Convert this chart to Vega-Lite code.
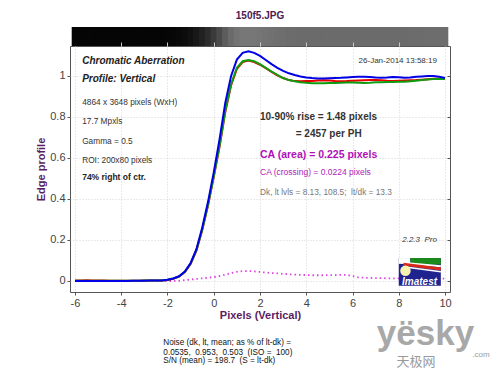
{
  "$schema": "https://vega.github.io/schema/vega-lite/v6.json",
  "width": 380,
  "height": 246,
  "autosize": {"type": "none"},
  "padding": {"left": 70, "top": 46, "right": 50, "bottom": 92},
  "background": "white",
  "title": {"text": "150f5.JPG", "fontSize": 10, "font": "Liberation Sans", "fontWeight": "bold", "color": "#4b1a55", "anchor": "middle", "offset": 6},
  "config": {"font": "Liberation Sans", "view": {"stroke": "#555", "strokeWidth": 1}},
  "resolve": {"axis": {"x": "independent", "y": "independent"}},
  "data": {"values": [
    {"x": -6, "Red": 0.002, "Green": 0.001, "Blue": 0.0, "CA": 0.0},
    {"x": -5.75, "Red": 0.003, "Green": 0.001, "Blue": 0.0, "CA": 0.0},
    {"x": -5.5, "Red": 0.004, "Green": 0.001, "Blue": 0.0, "CA": 0.0},
    {"x": -5.25, "Red": 0.003, "Green": 0.001, "Blue": 0.0, "CA": 0.0},
    {"x": -5, "Red": 0.002, "Green": 0.001, "Blue": 0.0, "CA": 0.0},
    {"x": -4.75, "Red": 0.002, "Green": 0.001, "Blue": 0.0, "CA": 0.0},
    {"x": -4.5, "Red": 0.001, "Green": 0.001, "Blue": 0.0, "CA": 0.0},
    {"x": -4.25, "Red": 0.001, "Green": 0.001, "Blue": 0.0, "CA": 0.0},
    {"x": -4, "Red": 0.001, "Green": 0.001, "Blue": 0.0, "CA": 0.0},
    {"x": -3.75, "Red": 0.001, "Green": 0.001, "Blue": 0.0, "CA": 0.0},
    {"x": -3.5, "Red": 0.001, "Green": 0.001, "Blue": 0.001, "CA": 0.0},
    {"x": -3.25, "Red": 0.001, "Green": 0.001, "Blue": 0.001, "CA": 0.0},
    {"x": -3, "Red": 0.002, "Green": 0.002, "Blue": 0.001, "CA": 0.0},
    {"x": -2.75, "Red": 0.002, "Green": 0.002, "Blue": 0.002, "CA": 0.0},
    {"x": -2.5, "Red": 0.002, "Green": 0.002, "Blue": 0.002, "CA": 0.0},
    {"x": -2.25, "Red": 0.003, "Green": 0.003, "Blue": 0.003, "CA": 0.0},
    {"x": -2, "Red": 0.005, "Green": 0.006, "Blue": 0.006, "CA": 0.0},
    {"x": -1.75, "Red": 0.011, "Green": 0.012, "Blue": 0.012, "CA": 0.0},
    {"x": -1.5, "Red": 0.021, "Green": 0.022, "Blue": 0.023, "CA": 0.001},
    {"x": -1.25, "Red": 0.043, "Green": 0.045, "Blue": 0.046, "CA": 0.004},
    {"x": -1, "Red": 0.083, "Green": 0.085, "Blue": 0.088, "CA": 0.007},
    {"x": -0.75, "Red": 0.148, "Green": 0.15, "Blue": 0.155, "CA": 0.01},
    {"x": -0.5, "Red": 0.248, "Green": 0.25, "Blue": 0.26, "CA": 0.013},
    {"x": -0.25, "Red": 0.368, "Green": 0.37, "Blue": 0.385, "CA": 0.016},
    {"x": 0, "Red": 0.508, "Green": 0.51, "Blue": 0.53, "CA": 0.019},
    {"x": 0.25, "Red": 0.655, "Green": 0.66, "Blue": 0.69, "CA": 0.024},
    {"x": 0.5, "Red": 0.825, "Green": 0.83, "Blue": 0.87, "CA": 0.031},
    {"x": 0.75, "Red": 0.955, "Green": 0.96, "Blue": 1.0, "CA": 0.039},
    {"x": 1, "Red": 1.035, "Green": 1.04, "Blue": 1.08, "CA": 0.045},
    {"x": 1.25, "Red": 1.068, "Green": 1.072, "Blue": 1.113, "CA": 0.048},
    {"x": 1.5, "Red": 1.075, "Green": 1.078, "Blue": 1.12, "CA": 0.049},
    {"x": 1.75, "Red": 1.068, "Green": 1.072, "Blue": 1.113, "CA": 0.047},
    {"x": 2, "Red": 1.055, "Green": 1.058, "Blue": 1.098, "CA": 0.044},
    {"x": 2.25, "Red": 1.038, "Green": 1.04, "Blue": 1.078, "CA": 0.041},
    {"x": 2.5, "Red": 1.02, "Green": 1.022, "Blue": 1.058, "CA": 0.039},
    {"x": 2.75, "Red": 1.003, "Green": 1.005, "Blue": 1.04, "CA": 0.037},
    {"x": 3, "Red": 0.99, "Green": 0.99, "Blue": 1.025, "CA": 0.035},
    {"x": 3.25, "Red": 0.98, "Green": 0.98, "Blue": 1.013, "CA": 0.033},
    {"x": 3.5, "Red": 0.975, "Green": 0.974, "Blue": 1.005, "CA": 0.031},
    {"x": 3.75, "Red": 0.974, "Green": 0.97, "Blue": 0.998, "CA": 0.03},
    {"x": 4, "Red": 0.975, "Green": 0.967, "Blue": 0.993, "CA": 0.029},
    {"x": 4.25, "Red": 0.976, "Green": 0.965, "Blue": 0.99, "CA": 0.028},
    {"x": 4.5, "Red": 0.978, "Green": 0.964, "Blue": 0.988, "CA": 0.028},
    {"x": 4.75, "Red": 0.979, "Green": 0.965, "Blue": 0.988, "CA": 0.028},
    {"x": 5, "Red": 0.978, "Green": 0.966, "Blue": 0.989, "CA": 0.029},
    {"x": 5.25, "Red": 0.975, "Green": 0.966, "Blue": 0.99, "CA": 0.029},
    {"x": 5.5, "Red": 0.974, "Green": 0.967, "Blue": 0.991, "CA": 0.03},
    {"x": 5.75, "Red": 0.975, "Green": 0.968, "Blue": 0.993, "CA": 0.03},
    {"x": 6, "Red": 0.977, "Green": 0.968, "Blue": 0.995, "CA": 0.024},
    {"x": 6.25, "Red": 0.978, "Green": 0.967, "Blue": 0.996, "CA": 0.018},
    {"x": 6.5, "Red": 0.979, "Green": 0.966, "Blue": 0.996, "CA": 0.016},
    {"x": 6.75, "Red": 0.98, "Green": 0.967, "Blue": 0.995, "CA": 0.015},
    {"x": 7, "Red": 0.981, "Green": 0.969, "Blue": 0.993, "CA": 0.014},
    {"x": 7.25, "Red": 0.979, "Green": 0.97, "Blue": 0.992, "CA": 0.014},
    {"x": 7.5, "Red": 0.977, "Green": 0.971, "Blue": 0.993, "CA": 0.013},
    {"x": 7.75, "Red": 0.976, "Green": 0.971, "Blue": 0.995, "CA": 0.013},
    {"x": 8, "Red": 0.977, "Green": 0.972, "Blue": 0.994, "CA": 0.013},
    {"x": 8.25, "Red": 0.978, "Green": 0.972, "Blue": 0.992, "CA": 0.013},
    {"x": 8.5, "Red": 0.979, "Green": 0.974, "Blue": 0.993, "CA": 0.012},
    {"x": 8.75, "Red": 0.98, "Green": 0.977, "Blue": 0.996, "CA": 0.012},
    {"x": 9, "Red": 0.982, "Green": 0.98, "Blue": 0.998, "CA": 0.012},
    {"x": 9.25, "Red": 0.984, "Green": 0.983, "Blue": 1.0, "CA": 0.012},
    {"x": 9.5, "Red": 0.986, "Green": 0.985, "Blue": 1.0, "CA": 0.012},
    {"x": 9.75, "Red": 0.987, "Green": 0.987, "Blue": 0.996, "CA": 0.012},
    {"x": 10, "Red": 0.985, "Green": 0.985, "Blue": 0.99, "CA": 0.012}
  ]},
  "layer": [
    {
      "transform": [{"fold": ["CA"], "as": ["k", "y"]}],
      "mark": {"type": "line", "color": "#e040e0", "strokeWidth": 1.8, "strokeDash": [1.5, 3]},
      "encoding": {
        "x": {"field": "x", "type": "quantitative", "scale": {"domain": [-6, 10], "nice": false, "zero": false},
          "axis": {"orient": "bottom", "values": [-6, -4, -2, 0, 2, 4, 6, 8, 10], "labelExpr": "'' + datum.value", "title": "Pixels (Vertical)",
            "titleFontSize": 11, "titleFontWeight": "bold", "titleColor": "#5a1d63", "titlePadding": 1,
            "labelFontSize": 11, "labelColor": "#444", "labelPadding": 2, "tickSize": 3, "tickColor": "#555", "domain": false,
            "grid": true, "gridColor": "#d4d4d4", "gridDash": [1, 2], "labelFlush": false}},
        "y": {"field": "y", "type": "quantitative", "scale": {"domain": [-0.0537, 1.1463], "nice": false, "zero": false},
          "axis": {"orient": "left", "values": [0, 0.2, 0.4, 0.6, 0.8, 1], "labelExpr": "'' + datum.value", "title": "Edge profile",
            "titleFontSize": 11, "titleFontWeight": "bold", "titleColor": "#5a1d63", "titlePadding": 3,
            "labelFontSize": 11, "labelColor": "#444", "labelPadding": 2, "tickSize": 3, "tickColor": "#555", "domain": false,
            "grid": true, "gridColor": "#d4d4d4", "gridDash": [1, 2], "labelFlush": false}}
      }
    },
    {
      "transform": [{"fold": ["Green"], "as": ["k", "g"]}],
      "mark": {"type": "bar", "width": 6.6},
      "encoding": {
        "x": {"field": "x", "type": "quantitative", "scale": {"domain": [-6, 10], "nice": false, "zero": false},
          "axis": {"orient": "top", "values": [-4, -2, 0, 2, 4, 6, 8], "labels": false, "domain": false, "grid": false, "tickSize": 4, "tickColor": "#c8c8c8", "title": null, "zindex": 1}},
        "y": {"datum": 1.1463, "type": "quantitative", "axis": null},
        "y2": {"datum": 1.239},
        "color": {"field": "g", "type": "quantitative", "scale": {"domain": [0, 1.1], "range": ["#050505", "#7a7a7a"]}, "legend": null}
      }
    },
    {
      "transform": [{"fold": ["Red"], "as": ["k", "y"]}],
      "mark": {"type": "line", "color": "#e60000", "strokeWidth": 2},
      "encoding": {
        "x": {"field": "x", "type": "quantitative", "axis": null},
        "y": {"field": "y", "type": "quantitative",
          "axis": {"orient": "right", "values": [0, 0.2, 0.4, 0.6, 0.8, 1], "labels": false, "domain": false, "grid": false, "tickSize": 3, "offset": -3, "tickColor": "#555", "title": null}}
      }
    },
    {
      "transform": [{"fold": ["Green"], "as": ["k", "y"]}],
      "mark": {"type": "line", "color": "#109c10", "strokeWidth": 2},
      "encoding": {
        "x": {"field": "x", "type": "quantitative", "axis": null},
        "y": {"field": "y", "type": "quantitative", "axis": null}
      }
    },
    {
      "transform": [{"fold": ["Blue"], "as": ["k", "y"]}],
      "mark": {"type": "line", "color": "#0000e6", "strokeWidth": 2},
      "encoding": {
        "x": {"field": "x", "type": "quantitative", "axis": null},
        "y": {"field": "y", "type": "quantitative", "axis": null}
      }
    },
    {
      "data": {"values": [
        {"x": -5.69, "y": 1.073, "t": "Chromatic Aberration"},
        {"x": -5.69, "y": 0.985, "t": "Profile: Vertical"}
      ]},
      "mark": {"type": "text", "align": "left", "baseline": "middle", "fontSize": 10, "fontWeight": "bold", "fontStyle": "italic", "color": "#222"},
      "encoding": {
        "x": {"field": "x", "type": "quantitative", "axis": null},
        "y": {"field": "y", "type": "quantitative", "axis": null},
        "text": {"field": "t"}
      }
    },
    {
      "data": {"values": [
        {"x": -5.69, "y": 0.868, "t": "4864 x 3648 pixels (WxH)"},
        {"x": -5.69, "y": 0.776, "t": "17.7 Mpxls"},
        {"x": -5.69, "y": 0.68, "t": "Gamma = 0.5"},
        {"x": -5.69, "y": 0.587, "t": "ROI: 200x80 pixels"}
      ]},
      "mark": {"type": "text", "align": "left", "baseline": "middle", "fontSize": 8.3, "color": "#333"},
      "encoding": {
        "x": {"field": "x", "type": "quantitative", "axis": null},
        "y": {"field": "y", "type": "quantitative", "axis": null},
        "text": {"field": "t"}
      }
    },
    {
      "data": {"values": [
        {"x": -5.69, "y": 0.506, "t": "74% right of ctr."}
      ]},
      "mark": {"type": "text", "align": "left", "baseline": "middle", "fontSize": 8.5, "fontWeight": "bold", "color": "#222"},
      "encoding": {
        "x": {"field": "x", "type": "quantitative", "axis": null},
        "y": {"field": "y", "type": "quantitative", "axis": null},
        "text": {"field": "t"}
      }
    },
    {
      "data": {"values": [
        {"x": 2.0, "y": 0.8, "t": "10-90% rise = 1.48 pixels"},
        {"x": 3.545, "y": 0.716, "t": "= 2457 per PH"}
      ]},
      "mark": {"type": "text", "align": "left", "baseline": "middle", "fontSize": 10, "fontWeight": "bold", "color": "#333"},
      "encoding": {
        "x": {"field": "x", "type": "quantitative", "axis": null},
        "y": {"field": "y", "type": "quantitative", "axis": null},
        "text": {"field": "t"}
      }
    },
    {
      "data": {"values": [
        {"x": 2.0, "y": 0.615, "t": "CA (area) = 0.225 pixels"}
      ]},
      "mark": {"type": "text", "align": "left", "baseline": "middle", "fontSize": 10.5, "fontWeight": "bold", "color": "#b010b8"},
      "encoding": {
        "x": {"field": "x", "type": "quantitative", "axis": null},
        "y": {"field": "y", "type": "quantitative", "axis": null},
        "text": {"field": "t"}
      }
    },
    {
      "data": {"values": [
        {"x": 2.0, "y": 0.53, "t": "CA (crossing) = 0.0224 pixels"}
      ]},
      "mark": {"type": "text", "align": "left", "baseline": "middle", "fontSize": 8.5, "color": "#b020b8"},
      "encoding": {
        "x": {"field": "x", "type": "quantitative", "axis": null},
        "y": {"field": "y", "type": "quantitative", "axis": null},
        "text": {"field": "t"}
      }
    },
    {
      "data": {"values": [
        {"x": 2.0, "y": 0.431, "t": "Dk, lt lvls = 8.13, 108.5;\u00a0 lt/dk = 13.3"}
      ]},
      "mark": {"type": "text", "align": "left", "baseline": "middle", "fontSize": 8.3, "color": "#777"},
      "encoding": {
        "x": {"field": "x", "type": "quantitative", "axis": null},
        "y": {"field": "y", "type": "quantitative", "axis": null},
        "text": {"field": "t"}
      }
    },
    {
      "data": {"values": [
        {"x": 9.65, "y": 1.075, "t": "26-Jan-2014 13:58:19"}
      ]},
      "mark": {"type": "text", "align": "right", "baseline": "middle", "fontSize": 8, "color": "#333"},
      "encoding": {
        "x": {"field": "x", "type": "quantitative", "axis": null},
        "y": {"field": "y", "type": "quantitative", "axis": null},
        "text": {"field": "t"}
      }
    },
    {
      "data": {"values": [
        {"x": 9.65, "y": 0.2, "t": "2.2.3\u00a0 Pro"}
      ]},
      "mark": {"type": "text", "align": "right", "baseline": "middle", "fontSize": 8, "fontStyle": "italic", "color": "#333"},
      "encoding": {
        "x": {"field": "x", "type": "quantitative", "axis": null},
        "y": {"field": "y", "type": "quantitative", "axis": null},
        "text": {"field": "t"}
      }
    },
    {
      "data": {"values": [{}]},
      "mark": {"type": "rect", "color": "#20238e"},
      "encoding": {
        "x": {"datum": 8.0, "type": "quantitative", "axis": null}, "x2": {"datum": 9.82},
        "y": {"datum": -0.023, "type": "quantitative", "axis": null}, "y2": {"datum": 0.112}
      }
    },
    {
      "data": {"values": [{}]},
      "mark": {"type": "rect", "color": "#ffffff"},
      "encoding": {
        "x": {"datum": 8.0, "type": "quantitative", "axis": null}, "x2": {"datum": 8.5},
        "y": {"datum": 0.085, "type": "quantitative", "axis": null}, "y2": {"datum": 0.112}
      }
    },
    {
      "data": {"values": [{}]},
      "mark": {"type": "rect", "color": "#1a8a1a"},
      "encoding": {
        "x": {"datum": 8.5, "type": "quantitative", "axis": null}, "x2": {"datum": 9.82},
        "y": {"datum": 0.08, "type": "quantitative", "axis": null}, "y2": {"datum": 0.112}
      }
    },
    {
      "data": {"values": [{}]},
      "mark": {"type": "rule", "color": "#ffffff", "strokeWidth": 2},
      "encoding": {
        "x": {"datum": 8.0, "type": "quantitative", "axis": null}, "x2": {"datum": 9.82},
        "y": {"datum": 0.09, "type": "quantitative", "axis": null}, "y2": {"datum": 0.072}
      }
    },
    {
      "data": {"values": [{}]},
      "mark": {"type": "rule", "color": "#d82a1a", "strokeWidth": 3},
      "encoding": {
        "x": {"datum": 8.2, "type": "quantitative", "axis": null}, "x2": {"datum": 9.82},
        "y": {"datum": 0.082, "type": "quantitative", "axis": null}, "y2": {"datum": 0.058}
      }
    },
    {
      "data": {"values": [{}]},
      "mark": {"type": "rule", "color": "#ffffff", "strokeWidth": 1.5},
      "encoding": {
        "x": {"datum": 8.2, "type": "quantitative", "axis": null}, "x2": {"datum": 9.82},
        "y": {"datum": 0.07, "type": "quantitative", "axis": null}, "y2": {"datum": 0.045}
      }
    },
    {
      "data": {"values": [{}]},
      "mark": {"type": "point", "shape": "circle", "filled": true, "size": 110, "color": "#f6f2b0", "opacity": 1},
      "encoding": {
        "x": {"datum": 8.29, "type": "quantitative", "axis": null},
        "y": {"datum": 0.05, "type": "quantitative", "axis": null}
      }
    },
    {
      "data": {"values": [
        {"x": 8.9, "y": -0.003, "t": "Imatest"}
      ]},
      "mark": {"type": "text", "align": "center", "baseline": "middle", "fontSize": 10, "fontWeight": "bold", "fontStyle": "italic", "color": "#ffffff"},
      "encoding": {
        "x": {"field": "x", "type": "quantitative", "axis": null},
        "y": {"field": "y", "type": "quantitative", "axis": null},
        "text": {"field": "t"}
      }
    },
    {
      "data": {"values": [
        {"x": -2.18, "y": -0.3024, "t": "Noise (dk, lt, mean; as % of lt-dk) ="},
        {"x": -2.18, "y": -0.349, "t": "0.0535,\u00a0 0.953,\u00a0 0.503\u00a0 (ISO =\u00a0 100)"},
        {"x": -2.18, "y": -0.39, "t": "S/N (mean) = 198.7\u00a0 (S = lt-dk)"}
      ]},
      "mark": {"type": "text", "align": "left", "baseline": "middle", "fontSize": 8.2, "color": "#111"},
      "encoding": {
        "x": {"field": "x", "type": "quantitative", "axis": null},
        "y": {"field": "y", "type": "quantitative", "axis": null},
        "text": {"field": "t"}
      }
    },
    {
      "data": {"values": [
        {"x": 7.05, "y": -0.312, "t": "yësky"}
      ]},
      "mark": {"type": "text", "align": "left", "baseline": "alphabetic", "fontSize": 35, "fontWeight": "bold", "color": "#a8a8a8"},
      "encoding": {
        "x": {"field": "x", "type": "quantitative", "axis": null},
        "y": {"field": "y", "type": "quantitative", "axis": null},
        "text": {"field": "t"}
      }
    },
    {
      "data": {"values": [
        {"x": 7.9, "y": -0.395, "t": "天极网"}
      ]},
      "mark": {"type": "text", "align": "left", "baseline": "middle", "fontSize": 13, "font": "Noto Sans CJK SC", "color": "#9a9a9a"},
      "encoding": {
        "x": {"field": "x", "type": "quantitative", "axis": null},
        "y": {"field": "y", "type": "quantitative", "axis": null},
        "text": {"field": "t"}
      }
    },
    {
      "data": {"values": [
        {"x": 11.18, "y": -0.361, "t": ".com"}
      ]},
      "mark": {"type": "text", "align": "left", "baseline": "middle", "fontSize": 8, "color": "#9a9a9a"},
      "encoding": {
        "x": {"field": "x", "type": "quantitative", "axis": null},
        "y": {"field": "y", "type": "quantitative", "axis": null},
        "text": {"field": "t"}
      }
    }
  ]
}
